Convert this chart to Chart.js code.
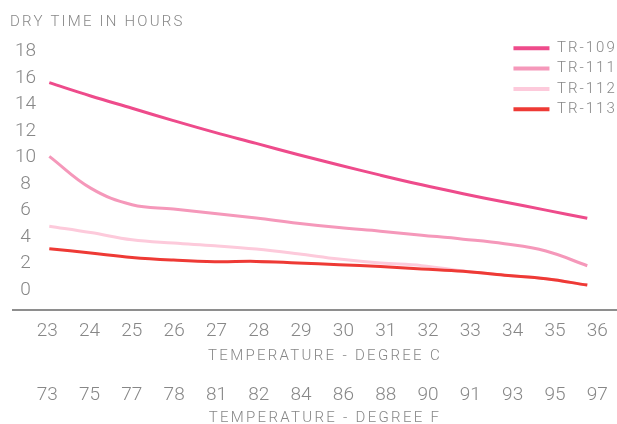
<!DOCTYPE html>
<html>
<head>
<meta charset="utf-8">
<script src="https://cdn.jsdelivr.net/npm/chart.js@4.4.1/dist/chart.umd.min.js"></script>
<style>
  html, body { margin: 0; padding: 0; background: #ffffff; }
  #wrap { width: 617px; height: 424px; position: relative; }
</style>
</head>
<body>
<div id="wrap"><canvas id="c"></canvas></div>
<script>
// ---- data ----
const tempC = [23, 24, 25, 26, 27, 28, 29, 30, 31, 32, 33, 34, 35, 36];
const tempF = [73, 75, 77, 78, 81, 82, 84, 86, 88, 90, 91, 93, 95, 97];
const yTicks = [0, 2, 4, 6, 8, 10, 12, 14, 16, 18];
const seriesNames = ['TR-109', 'TR-111', 'TR-112', 'TR-113'];
const tr109 = [15.66, 14.66, 13.73, 12.80, 11.91, 11.08, 10.24, 9.45, 8.68, 7.95, 7.28, 6.65, 6.04, 5.42];
const tr111 = [10.10, 7.70, 6.45, 6.13, 5.79, 5.44, 5.05, 4.72, 4.45, 4.15, 3.85, 3.50, 2.95, 1.84];
const tr112 = [4.83, 4.35, 3.80, 3.55, 3.35, 3.10, 2.75, 2.35, 2.05, 1.85, 1.45, 1.13, 0.86, 0.38];
const tr113 = [3.13, 2.80, 2.47, 2.27, 2.15, 2.17, 2.05, 1.92, 1.78, 1.60, 1.42, 1.13, 0.86, 0.38];
const seriesValues = [tr109, tr111, tr112, tr113];

// ---- styles ----
const colors = ['#EE4B8B', '#F598BA', '#FDCADB', '#EE3A35'];
const GRAY = '#878787';
const FONT = 'Roboto, "Open Sans", "Liberation Sans", sans-serif';

const spacingPlugin = {
  id: 'spacing',
  beforeInit(chart) {
    const lg = chart.legend;
    if (lg) {
      const fit = lg.fit, draw = lg.draw;
      lg.fit = function () {
        const ctx = this.ctx, mw = this.maxWidth;
        ctx.save();
        ctx.letterSpacing = '2px';
        this.maxWidth = 130;
        fit.call(this);
        this.maxWidth = mw;
        ctx.restore();
        this.width = mw;
        this.height = 17.7;
      };
      lg.draw = function () {
        const ctx = this.ctx;
        const b = this.bottom, h = this.height;
        this.bottom = this.top + 100;
        this.height = 100;
        ctx.save();
        ctx.translate(5, 1.5);
        ctx.letterSpacing = '2px';
        draw.call(this);
        ctx.restore();
        this.bottom = b;
        this.height = h;
      };
    }
    const tb = chart.titleBlock;
    if (tb) {
      const tdraw = tb.draw;
      tb.draw = function () {
        const ctx = this.ctx;
        ctx.save();
        ctx.letterSpacing = '2.2px';
        tdraw.call(this);
        ctx.restore();
      };
    }
  },
  afterLayout(chart) {
    ['xc', 'xf'].forEach(id => {
      const s = chart.scales[id];
      if (s && !s._lsPatched) {
        const dt = s.drawTitle;
        s.drawTitle = function () {
          const ctx = this.ctx;
          ctx.save();
          ctx.translate(10, 0);
          ctx.letterSpacing = '2.3px';
          dt.call(this);
          ctx.restore();
        };
        s._lsPatched = true;
      }
    });
  }
};

const tickFont = { family: FONT, size: 19, weight: '300', lineHeight: 1.1 };
const titleFont = { family: FONT, size: 15, weight: '300', lineHeight: '6px' };

new Chart(document.getElementById('c'), {
  type: 'line',
  data: {
    datasets: seriesNames.map((name, k) => ({
      label: name,
      data: tempC.map((c, i) => ({ x: c, y: seriesValues[k][i] })),
      xAxisID: 'xd',
      yAxisID: 'y',
      borderColor: colors[k],
      backgroundColor: colors[k],
      borderWidth: 3,
      pointRadius: 0,
      pointHoverRadius: 0,
      tension: 0.4,
      fill: false,
      order: seriesNames.length - k
    }))
  },
  options: {
    responsive: true,
    maintainAspectRatio: false,
    animation: false,
    events: [],
    layout: { padding: { left: 10, right: 0, top: 0, bottom: 0 } },
    plugins: {
      title: {
        display: true,
        text: 'DRY TIME IN HOURS',
        align: 'start',
        color: GRAY,
        font: { family: FONT, size: 15, weight: '300', lineHeight: '18px' },
        padding: { top: 13, bottom: 3 }
      },
      legend: {
        display: true,
        position: 'top',
        align: 'end',
        labels: {
          usePointStyle: true,
          pointStyle: 'line',
          pointStyleWidth: 36,
          color: GRAY,
          font: { family: FONT, size: 15, weight: '300' },
          padding: 5.3,
          sort: (a, b) => a.datasetIndex - b.datasetIndex,
          generateLabels(chart) {
            const items = Chart.defaults.plugins.legend.labels.generateLabels(chart);
            items.forEach(it => { it.lineWidth = 4; });
            return items;
          }
        }
      },
      tooltip: { enabled: false }
    },
    scales: {
      xd: {
        type: 'linear', axis: 'x', display: false, bounds: 'data',
        min: 22.123, max: 36.718
      },
      xc: {
        type: 'linear', axis: 'x', position: 'bottom', weight: 1, bounds: 'data',
        min: 22.192, max: 36.466,
        afterBuildTicks: s => { s.ticks = tempC.map(v => ({ value: v })); },
        afterFit: s => { s.paddingLeft = 0; s.paddingRight = 0; },
        grid: { display: false, drawTicks: false },
        border: { display: true, color: '#8e8e8e', width: 2 },
        ticks: {
          autoSkip: false, maxRotation: 0, minRotation: 0,
          color: GRAY, font: tickFont, padding: 11.25,
          callback: (v, i) => String(tempC[i])
        },
        title: {
          display: true, text: 'TEMPERATURE - DEGREE C', color: GRAY,
          font: titleFont, padding: { top: 0, bottom: 15.6 }
        }
      },
      xf: {
        type: 'linear', axis: 'x', position: 'bottom', weight: 2, bounds: 'data',
        min: 22.192, max: 36.466,
        afterBuildTicks: s => { s.ticks = tempC.map(v => ({ value: v })); },
        afterFit: s => { s.paddingLeft = 0; s.paddingRight = 0; },
        grid: { display: false, drawTicks: false },
        border: { display: false },
        ticks: {
          autoSkip: false, maxRotation: 0, minRotation: 0,
          color: GRAY, font: tickFont, padding: 9.55,
          callback: (v, i) => String(tempF[i])
        },
        title: {
          display: true, text: 'TEMPERATURE - DEGREE F', color: GRAY,
          font: titleFont, padding: { top: 0, bottom: 3 }
        }
      },
      y: {
        type: 'linear', position: 'left', bounds: 'data',
        min: -1.5, max: 18,
        afterBuildTicks: s => { s.ticks = yTicks.map(v => ({ value: v })); },
        afterFit: s => { s.width = 3; s.paddingTop = 0; s.paddingBottom = 0; },
        grid: { display: false, drawTicks: false },
        border: { display: false },
        ticks: {
          mirror: true, crossAlign: 'center', padding: 2,
          color: GRAY, font: tickFont,
          callback: v => String(v)
        }
      }
    }
  },
  plugins: [spacingPlugin]
});
</script>
</body>
</html>
